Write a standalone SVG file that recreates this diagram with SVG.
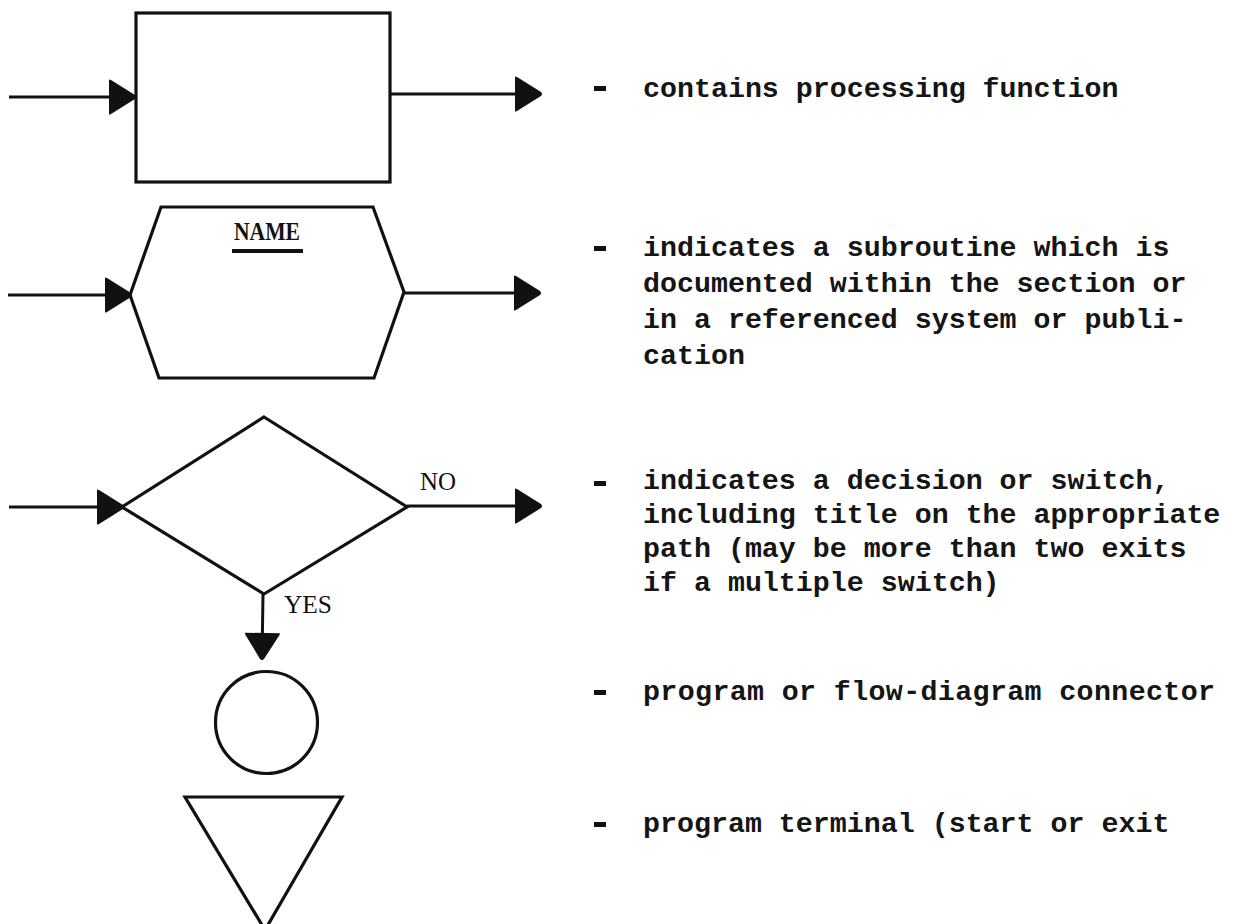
<svg xmlns="http://www.w3.org/2000/svg" width="1233" height="924" viewBox="0 0 1233 924">
  <style>
    .shape { fill: none; stroke: #111; stroke-width: 3.2; stroke-linejoin: miter; }
    .flow { fill: none; stroke: #111; stroke-width: 3; }
    .desc { font-family: "Liberation Mono", "DejaVu Sans Mono", monospace; font-size: 28.3px; font-weight: bold; fill: #151515; }
    .dash { fill: #111; }
    .tag { font-family: "Liberation Serif", "DejaVu Serif", serif; font-size: 25px; fill: #111; }
    .name { font-family: "Liberation Serif", "DejaVu Serif", serif; font-size: 26px; font-weight: bold; fill: #111; }
  </style>
  <defs>
    <marker id="head" markerUnits="userSpaceOnUse" markerWidth="30" markerHeight="40" refX="27" refY="18" orient="auto" viewBox="0 0 30 36">
      <path d="M1,1 Q1,0 3,1 L27,16 Q29,18 27,20 L3,35 Q1,36 1,35 Z" fill="#111"/>
    </marker>
  </defs>

  <rect x="0" y="0" width="1233" height="924" fill="#fff"/>

  <!-- flow symbols -->
  <g id="process">
    <rect class="shape" x="136" y="13" width="254" height="169"/>
  </g>

  <g id="subroutine">
    <polygon class="shape" points="161,207 373,207 404,292 374,378 159,378 130,295"/>
    <text class="name" x="234" y="240" textLength="66" lengthAdjust="spacingAndGlyphs">NAME</text>
    <line x1="232" y1="251" x2="303" y2="251" stroke="#111" stroke-width="4"/>
  </g>

  <g id="decision">
    <polygon class="shape" points="264,417 407,507 264,594 122,507"/>
    <text class="tag" x="420" y="490" textLength="36" lengthAdjust="spacingAndGlyphs">NO</text>
    <text class="tag" x="284" y="613" textLength="48" lengthAdjust="spacingAndGlyphs">YES</text>
  </g>

  <g id="connector">
    <circle class="shape" cx="266.5" cy="722.5" r="51" stroke-width="2.8"/>
  </g>

  <g id="terminal">
    <polygon class="shape" points="185,797 342,797 265,930" stroke-width="2.8"/>
  </g>

  <!-- flow lines -->
  <g id="connectors">
    <line class="flow" x1="9" y1="97" x2="135" y2="97" marker-end="url(#head)"/>
    <line class="flow" x1="390" y1="94" x2="541" y2="94" marker-end="url(#head)"/>
    <line class="flow" x1="8" y1="295" x2="131" y2="295" marker-end="url(#head)"/>
    <line class="flow" x1="404" y1="293" x2="540" y2="293" marker-end="url(#head)"/>
    <line class="flow" x1="9" y1="507" x2="123" y2="507" marker-end="url(#head)"/>
    <line class="flow" x1="407" y1="506" x2="541" y2="506" marker-end="url(#head)"/>
    <line class="flow" x1="263" y1="594" x2="262" y2="659" marker-end="url(#head)"/>
  </g>

  <!-- legend descriptions -->
  <g id="legend">
    <rect class="dash" x="594" y="86" width="12" height="5"/>
    <text class="desc" x="643" y="97">contains processing function</text>

    <rect class="dash" x="594" y="246" width="12" height="5"/>
    <text class="desc" x="643" y="256">indicates a subroutine which is</text>
    <text class="desc" x="643" y="292">documented within the section or</text>
    <text class="desc" x="643" y="328">in a referenced system or publi-</text>
    <text class="desc" x="643" y="364">cation</text>

    <rect class="dash" x="594" y="481" width="12" height="5"/>
    <text class="desc" x="643" y="489">indicates a decision or switch,</text>
    <text class="desc" x="643" y="523">including title on the appropriate</text>
    <text class="desc" x="643" y="557">path (may be more than two exits</text>
    <text class="desc" x="643" y="591">if a multiple switch)</text>

    <rect class="dash" x="594" y="690" width="12" height="5"/>
    <text class="desc" x="643" y="700" textLength="572" lengthAdjust="spacing">program or flow-diagram connector</text>

    <rect class="dash" x="594" y="822" width="12" height="5"/>
    <text class="desc" x="643" y="832">program terminal (start or exit</text>
  </g>
</svg>
